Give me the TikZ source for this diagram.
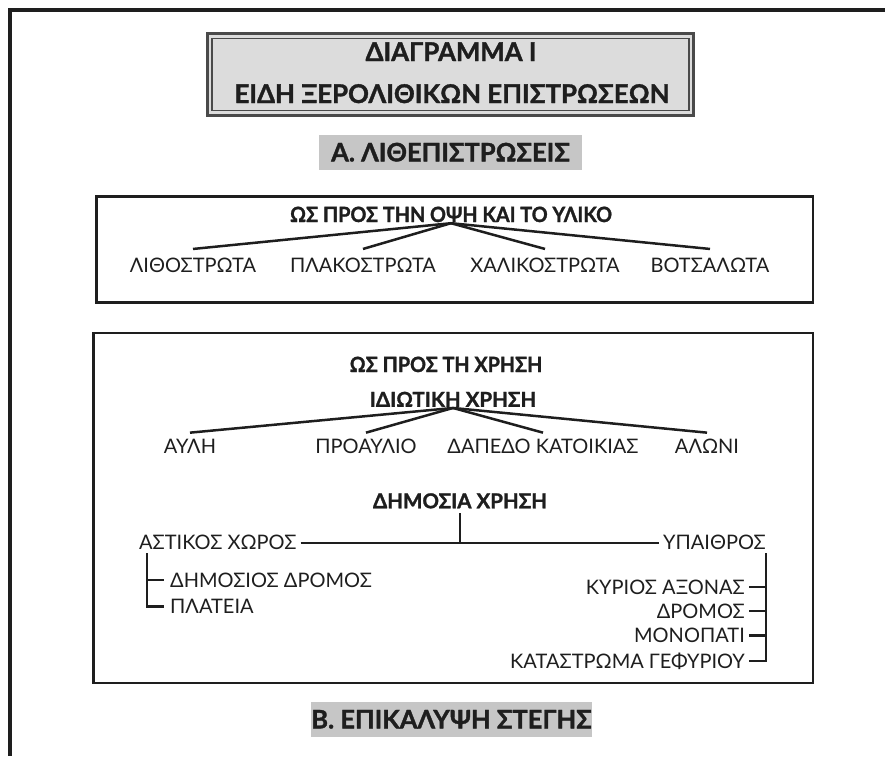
\documentclass[tikz,border=0pt]{standalone}
\usepackage{fontspec}
\setmainfont{Lato}[BoldFeatures={FakeBold=1.4}]
\definecolor{ink}{HTML}{1E1E1E}
\definecolor{titlefill}{HTML}{DCDCDC}
\definecolor{titleline}{HTML}{4A4A4A}
\definecolor{secfill}{HTML}{C6C6C6}
\begin{document}
\begin{tikzpicture}[x=1pt,y=-1pt,
  every node/.style={text=ink},
  conn/.style={draw=ink, line width=2.5pt},
  frame/.style={draw=ink, line width=2.7pt},
  titletxt/.style={font=\bfseries\fontsize{25.8}{30}\selectfont, anchor=base, inner sep=0pt},
  sectxt/.style={font=\bfseries\fontsize{25.5}{30}\selectfont, fill=secfill, text height=17.8pt, text depth=0pt, inner sep=0pt, minimum height=35pt},
  headtxt/.style={font=\bfseries\fontsize{21}{25}\selectfont\addfontfeature{FakeStretch=0.94}, text height=15pt, text depth=0pt, inner xsep=0pt, inner ysep=1pt},
  subtxt/.style={font=\bfseries\fontsize{20.5}{24}\selectfont, text height=14.5pt, text depth=0pt, inner xsep=0pt, inner ysep=1pt},
  leaf/.style={font=\fontsize{20}{24}\selectfont, text height=14.3pt, text depth=0pt, inner xsep=4pt, inner ysep=0pt},
  leafA/.style={leaf, inner ysep=9.5pt},
  leafB/.style={leaf, inner ysep=6.5pt}
]
\useasboundingbox (0,0) rectangle (885,756);
% outer frame (only top and left visible)
\draw[ink, line width=3.5pt] (885,9.8) -- (9.8,9.8) -- (9.8,756);

% title box
\fill[titlefill] (206,32) rectangle (695,117);
\draw[titleline, line width=3pt] (207.5,33.5) rectangle (693.5,115.5);
\draw[titleline, line width=1.4pt] (212,38.5) rectangle (689,110.5);
\node[titletxt] (t1) at (451,61) {ΔΙΑΓΡΑΜΜΑ I};
\node[titletxt] (t2) at (452,103) {ΕΙΔΗ ΞΕΡΟΛΙΘΙΚΩΝ ΕΠΙΣΤΡΩΣΕΩΝ};

% section A
\node[sectxt, minimum width=263pt] (secA) at (450.5,152.5) {Α. ΛΙΘΕΠΙΣΤΡΩΣΕΙΣ};

% box 1
\draw[frame] (96.5,196.5) rectangle (813,302.5);
\node[headtxt] (h1) at (451,214.5) {ΩΣ ΠΡΟΣ ΤΗΝ ΟΨΗ ΚΑΙ ΤΟ ΥΛΙΚΟ};
\node[leafA] (a1) at (193,265.8) {ΛΙΘΟΣΤΡΩΤΑ};
\node[leafA] (a2) at (363,265.8) {ΠΛΑΚΟΣΤΡΩΤΑ};
\node[leafA] (a3) at (545,265.8) {ΧΑΛΙΚΟΣΤΡΩΤΑ};
\node[leafA] (a4) at (710,265.8) {ΒΟΤΣΑΛΩΤΑ};
\foreach \n in {a1,a2,a3,a4} \draw[conn] (h1.south) -- (\n.north);

% box 2
\draw[frame] (93.5,333) rectangle (813,683);
\node[headtxt] (h2) at (446,364.5) {ΩΣ ΠΡΟΣ ΤΗ ΧΡΗΣΗ};
\node[subtxt] (p0) at (453,399.5) {ΙΔΙΩΤΙΚΗ ΧΡΗΣΗ};
\node[leafB] (b1) at (190,446.5) {ΑΥΛΗ};
\node[leafB] (b2) at (366,446.5) {ΠΡΟΑΥΛΙΟ};
\node[leafB] (b3) at (543,446.5) {ΔΑΠΕΔΟ ΚΑΤΟΙΚΙΑΣ};
\node[leafB] (b4) at (707,446.5) {ΑΛΩΝΙ};
\foreach \n in {b1,b2,b3,b4} \draw[conn] (p0.south) -- (\n.north);

% public use
\node[subtxt, inner ysep=5pt] (d0) at (460,501) {ΔΗΜΟΣΙΑ ΧΡΗΣΗ};
\node[leaf, anchor=west] (ast) at (135,542.8) {ΑΣΤΙΚΟΣ ΧΩΡΟΣ};
\node[leaf, anchor=east] (ypa) at (770,542.8) {ΥΠΑΙΘΡΟΣ};
\draw[conn] (ast.east) -- (ypa.west);
\draw[conn] (d0.south) -- (d0.south |- ast.east);

\node[leaf, anchor=west, inner xsep=6pt] (dd) at (164,580) {ΔΗΜΟΣΙΟΣ ΔΡΟΜΟΣ};
\node[leaf, anchor=west, inner xsep=6pt] (pl) at (164,606.5) {ΠΛΑΤΕΙΑ};
\coordinate (lb) at (147,553);
\draw[conn] (lb) |- (pl.west);
\draw[conn] (lb |- dd.west) -- (dd.west);

\node[leaf, anchor=east] (r1) at (749,587) {ΚΥΡΙΟΣ ΑΞΟΝΑΣ};
\node[leaf, anchor=east] (r2) at (749,611) {ΔΡΟΜΟΣ};
\node[leaf, anchor=east] (r3) at (749,635.5) {ΜΟΝΟΠΑΤΙ};
\node[leaf, anchor=east] (r4) at (749,661) {ΚΑΤΑΣΤΡΩΜΑ ΓΕΦΥΡΙΟΥ};
\coordinate (rb) at (766,553);
\draw[conn] (rb) |- (r4.east);
\foreach \n in {r1,r2,r3} \draw[conn] (\n.east) -- (\n.east -| rb);

% section B
\node[sectxt, minimum width=281pt] (secB) at (451.5,719.5) {Β. ΕΠΙΚΑΛΥΨΗ ΣΤΕΓΗΣ};
\end{tikzpicture}
\end{document}
